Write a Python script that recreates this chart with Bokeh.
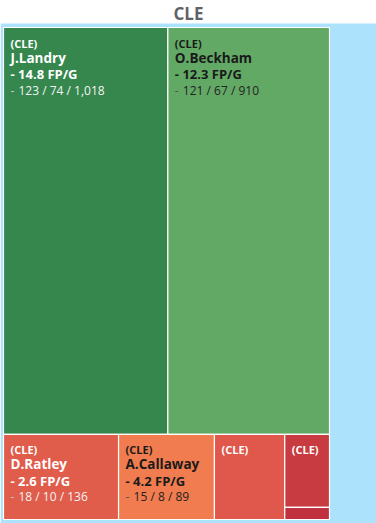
from bokeh.plotting import figure
from bokeh.models import Range1d, ColumnDataSource
from bokeh.core.properties import value
from bokeh.embed import file_html
from bokeh.resources import INLINE

team = "CLE"
names = ["J.Landry", "O.Beckham", "D.Ratley", "A.Callaway", "", "", ""]
fpg = [14.8, 12.3, 2.6, 4.2, None, None, None]
targets = [123, 121, 18, 15, 11, 6, 1]
receptions = [74, 67, 10, 8, None, None, None]
yards = [1018, 910, 136, 89, None, None, None]
colors = ["#35874d", "#62a966", "#e05c4b", "#f07c4f", "#e0574b", "#c83b40", "#c0303f"]
dark_text = [False, True, False, True, False, False, False]
# nesting of the treemap (rows, then columns, then rows ...)
structure = [[0, 1], [2, 3, 4, [5, 6]]]

W, H = 376, 523
FONT = "Open Sans"
X0, X1, Y0, Y1 = 3, 329, 27, 519

rects = {}


def total(node):
    if isinstance(node, list):
        return sum(total(n) for n in node)
    return targets[node]


def lay(node, x0, y0, x1, y1, vertical):
    if not isinstance(node, list):
        rects[node] = (x0, y0, x1, y1)
        return
    t = total(node)
    pos = y0 if vertical else x0
    for child in node:
        frac = total(child) / t
        if vertical:
            h = (y1 - y0) * frac
            lay(child, x0, pos, x1, pos + h, not vertical)
            pos += h
        else:
            w = (x1 - x0) * frac
            lay(child, pos, y0, pos + w, y1, not vertical)
            pos += w


lay(structure, X0, Y0, X1, Y1, True)

p = figure(width=W, height=H, x_range=Range1d(0, W), y_range=Range1d(H, 0),
           output_backend="svg", toolbar_location=None, min_border=0)
p.axis.visible = False
p.grid.visible = False
p.outline_line_color = None
p.background_fill_color = "white"
p.border_fill_color = "white"

# plot-area background
p.quad(left=[0], right=[W], top=[23], bottom=[H], fill_color="#ade2fc", line_color=None)

idx = list(range(len(targets)))
src = ColumnDataSource(dict(
    left=[rects[i][0] for i in idx], right=[rects[i][2] for i in idx],
    top=[rects[i][1] for i in idx], bottom=[rects[i][3] for i in idx],
    color=colors))
p.quad(left="left", right="right", top="top", bottom="bottom", source=src,
       fill_color="color", line_color="white", line_width=1.2)

p.text(x=[W / 2], y=[13], text=[team], text_font=value(FONT), text_font_size="17px",
       text_font_style="bold", text_color="#5f6368", text_align="center", text_baseline="middle")

for i in idx:
    x0, y0, x1, y1 = rects[i]
    if y1 - y0 < 30:
        continue
    tx = x0 + 7
    ty = y0 + 15.5
    main = "#1a1a1a" if dark_text[i] else "white"
    p.text(x=[tx], y=[ty], text=[f"({team})"], text_font=value(FONT), text_font_size="11px",
           text_font_style="bold", text_color=main, text_baseline="middle")
    if names[i]:
        p.text(x=[tx], y=[ty + 14.5], text=[names[i]], text_font=value(FONT), text_font_size="13.5px",
               text_font_style="bold", text_color=main, text_baseline="middle")
        p.text(x=[tx], y=[ty + 31], text=[f"- {fpg[i]} FP/G"], text_font=value(FONT),
               text_font_size="13px", text_font_style="bold", text_color=main, text_baseline="middle")
        stats = f"{targets[i]} / {receptions[i]} / {yards[i]:,}"
        dash_col = "#555555" if dark_text[i] else "#c8c8c8"
        stat_col = "#222222" if dark_text[i] else "#f4f4f4"
        p.text(x=[tx], y=[ty + 47], text=["-"], text_font=value(FONT), text_font_size="12px",
               text_color=dash_col, text_baseline="middle")
        p.text(x=[tx + 8], y=[ty + 47], text=[stats], text_font=value(FONT), text_font_size="12px",
               text_color=stat_col, text_baseline="middle")

open("out.html", "w").write(file_html(p, INLINE))
